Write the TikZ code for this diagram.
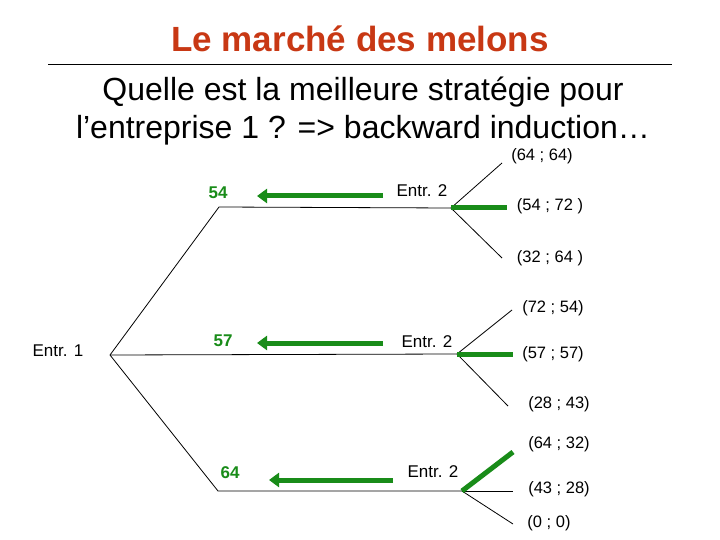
\documentclass[tikz,border=0pt]{standalone}
\usepackage{fontspec}
\setmainfont{Liberation Sans}
\usetikzlibrary{arrows.meta}
\definecolor{titlered}{RGB}{200,56,20}
\definecolor{gr}{RGB}{25,140,25}
\begin{document}
\begin{tikzpicture}[x=1bp,y=-1bp,
  tree/.style={draw=black,line width=0.8bp},
  best/.style={draw=gr,line width=5bp},
  barrow/.style={draw=gr,line width=5bp,-{Triangle[length=10bp,width=14bp]}},
  pay/.style={font=\fontsize{16.5bp}{19bp}\selectfont,inner sep=0pt},
  player/.style={font=\fontsize{17bp}{20bp}\selectfont,inner sep=0pt},
  val/.style={font=\fontsize{17bp}{20bp}\selectfont\bfseries,text=gr,inner sep=0pt}]
\useasboundingbox (0,0) rectangle (720,540);
\fill[white] (0,0) rectangle (720,540);
% title
\node[font=\fontsize{35bp}{40bp}\selectfont\bfseries,text=titlered,inner sep=0pt] (title) at (360,39) {Le marché des melons};
\coordinate (rl) at (48,65);
\coordinate (rr) at (672,65);
\draw[line width=1bp] (rl) -- (rr);
\node[font=\fontsize{32bp}{38bp}\selectfont,inner sep=0pt,align=center] (sub) at (363,111) {Quelle est la meilleure stratégie pour\\l’entreprise 1 ? => backward induction…};
% tree coordinates
\coordinate (R) at (110,355);
\coordinate (A) at (219,207);
\coordinate (C) at (218,491);
\coordinate (T2) at (451,208);
\coordinate (M2) at (457,354);
\coordinate (B2) at (462,491);
\coordinate (t1) at (502,163);
\coordinate (t2) at (507,208);
\coordinate (t3) at (502,258);
\coordinate (m1) at (512,310);
\coordinate (m2) at (513,354);
\coordinate (m3) at (508,406);
\coordinate (b1) at (513,452);
\coordinate (b2) at (513,491);
\coordinate (b3) at (513,524);
\draw[tree] (R) -- (A) -- (T2);
\draw[tree] (R) -- (M2);
\draw[tree] (R) -- (C) -- (B2);
\draw[tree] (T2) -- (t1);
\draw[tree] (T2) -- (t3);
\draw[best] (T2) -- (t2);
\draw[tree] (M2) -- (m1);
\draw[tree] (M2) -- (m3);
\draw[best] (M2) -- (m2);
\draw[tree] (B2) -- (b2);
\draw[tree] (B2) -- (b3);
\draw[best] (B2) -- (b1);
% labels
\node[player] (e1) at (58,351) {Entr. 1};
\node[player] (e2a) at (422,191) {Entr. 2};
\node[player] (e2b) at (427,342) {Entr. 2};
\node[player] (e2c) at (433,472) {Entr. 2};
\node[val] (v54) at (218,193) {54};
\node[val] (v57) at (223,341) {57};
\node[val] (v64) at (230,473) {64};
\node[pay] (p1) at (542,156) {(64 ; 64)};
\node[pay] (p2) at (550,206) {(54 ; 72 )};
\node[pay] (p3) at (550,258) {(32 ; 64 )};
\node[pay] (p4) at (553,308) {(72 ; 54)};
\node[pay] (p5) at (553,354) {(57 ; 57)};
\node[pay] (p6) at (559,404) {(28 ; 43)};
\node[pay] (p7) at (559,444) {(64 ; 32)};
\node[pay] (p8) at (559,489) {(43 ; 28)};
\node[pay] (p9) at (549,523) {(0 ; 0)};
% backward arrows
\coordinate (a1s) at (383,196);
\coordinate (a1e) at (257,196);
\coordinate (a2s) at (383,343);
\coordinate (a2e) at (257,343);
\coordinate (a3s) at (393,480);
\coordinate (a3e) at (269,480);
\draw[barrow] (a1s) -- (a1e);
\draw[barrow] (a2s) -- (a2e);
\draw[barrow] (a3s) -- (a3e);
\end{tikzpicture}
\end{document}
